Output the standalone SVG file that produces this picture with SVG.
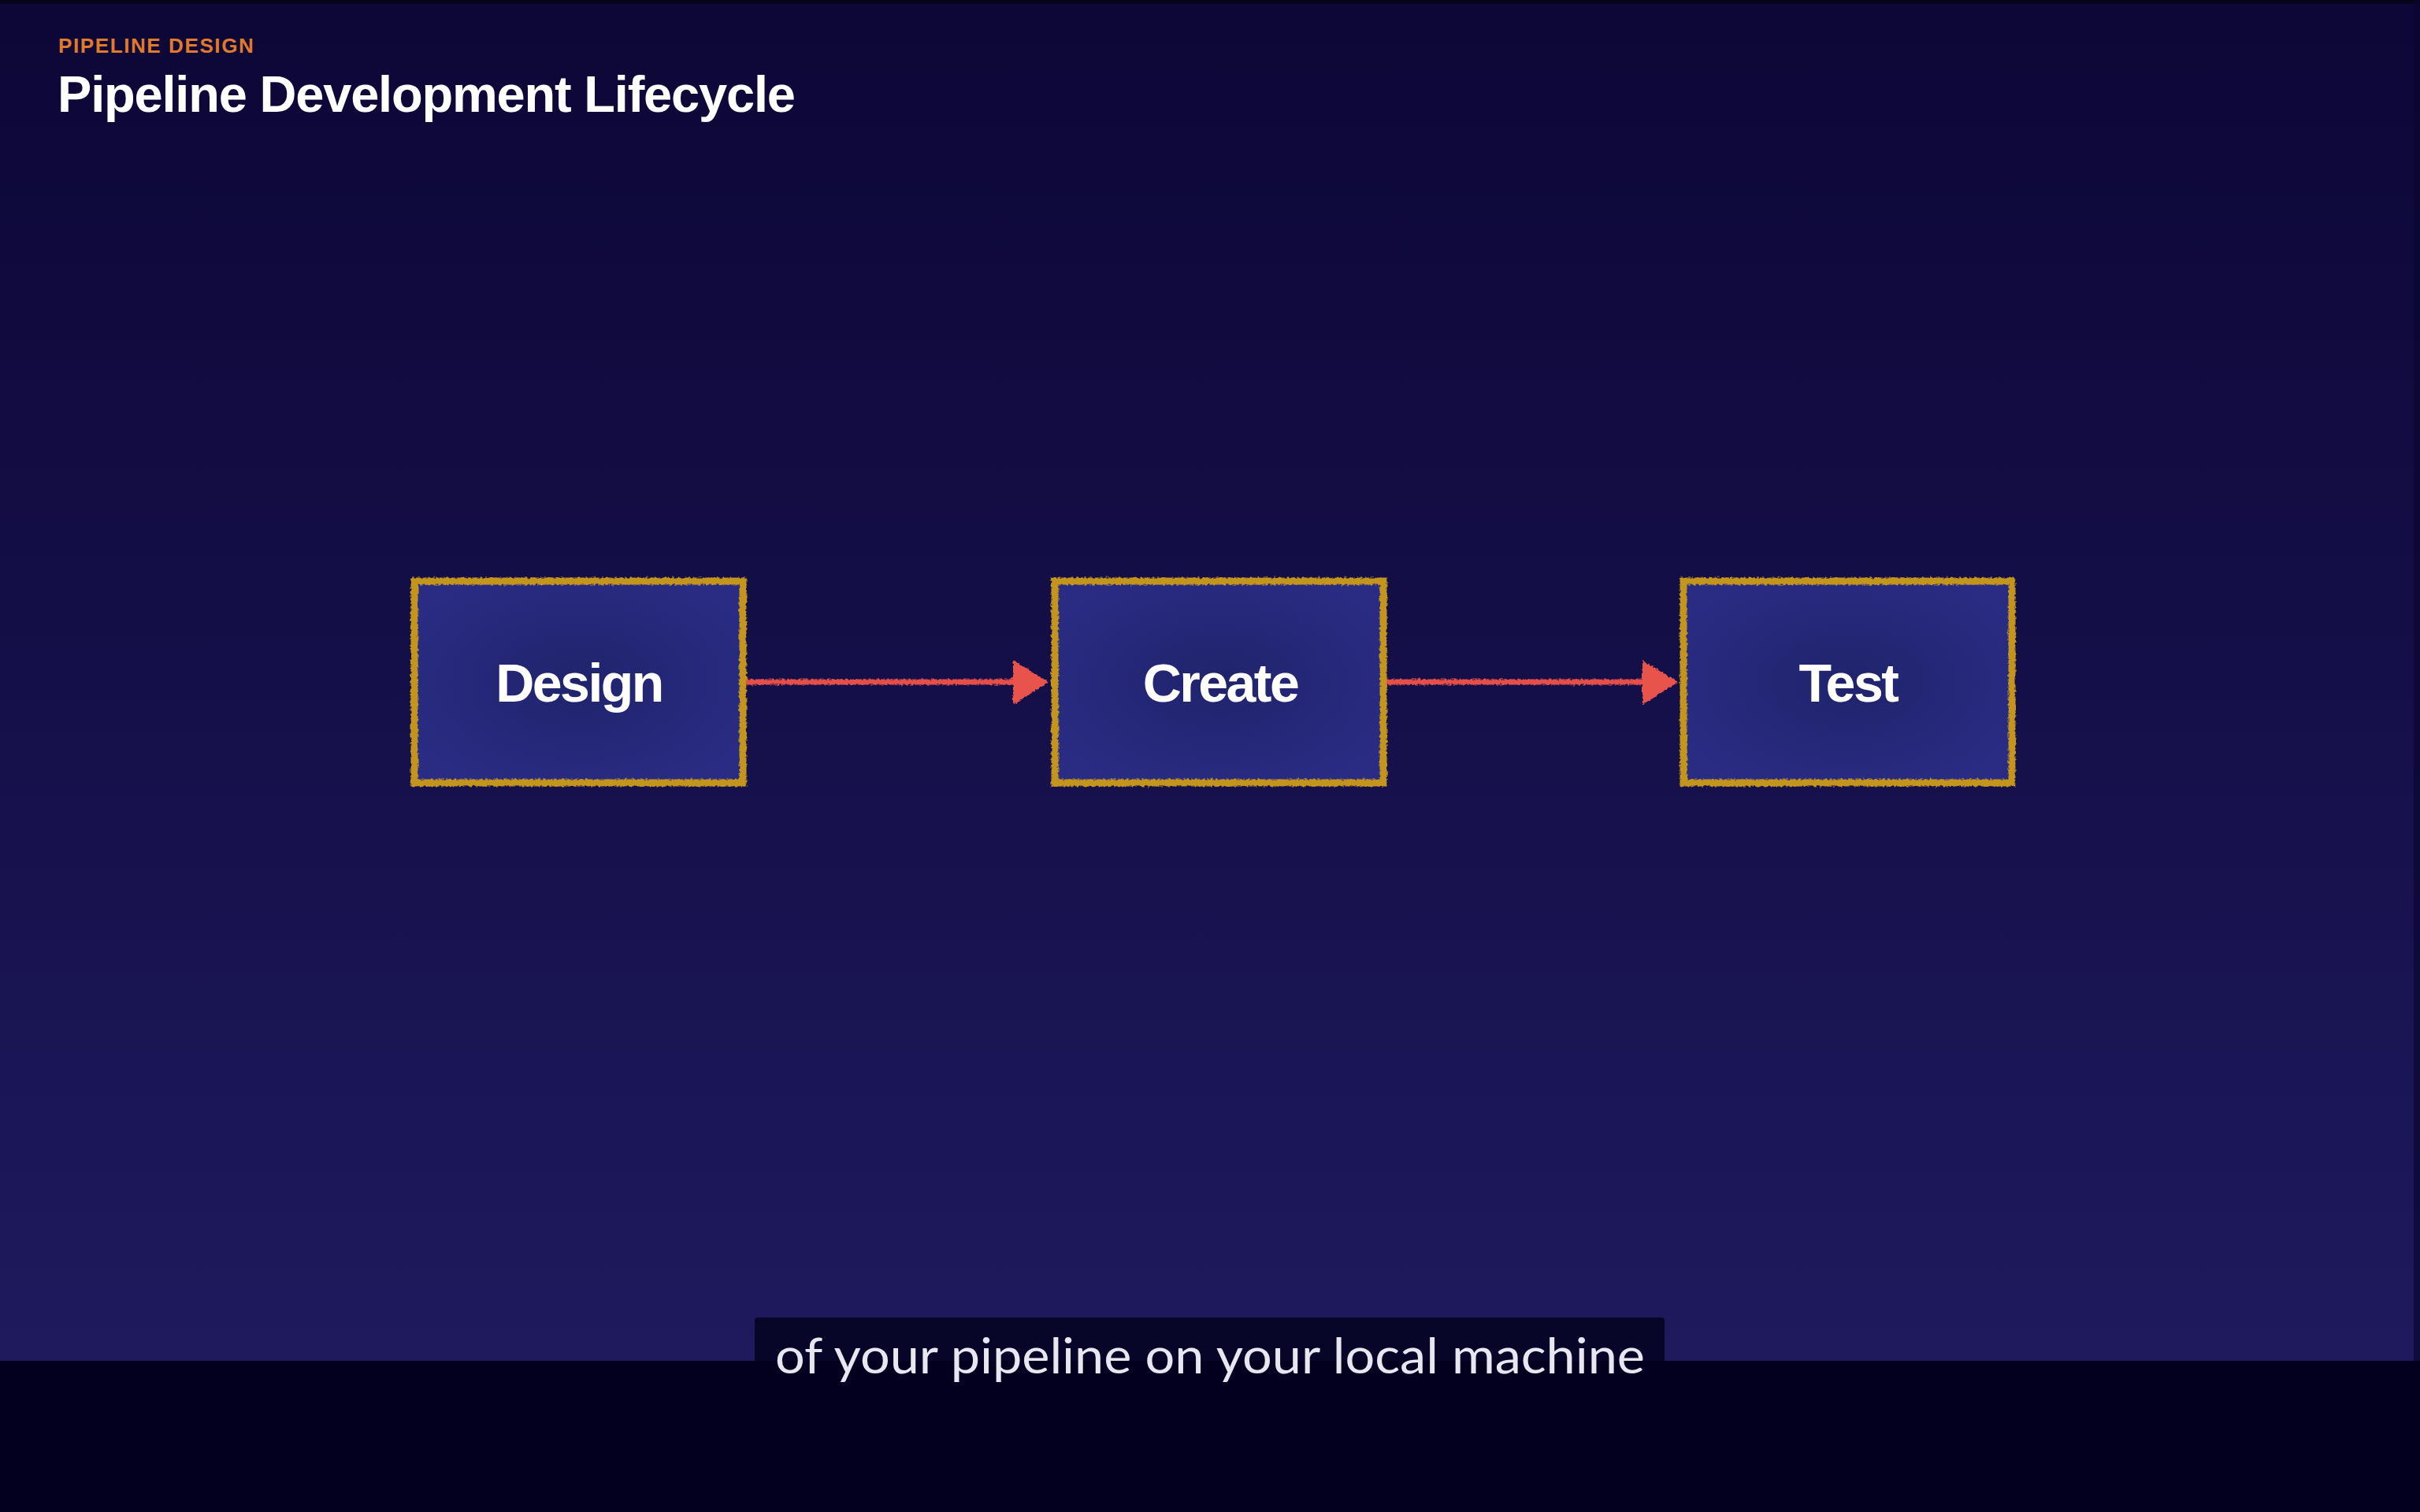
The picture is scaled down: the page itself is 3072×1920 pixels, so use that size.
<svg xmlns="http://www.w3.org/2000/svg" width="3072" height="1920" viewBox="0 0 3072 1920">
  <defs>
    <linearGradient id="bg" x1="0" y1="0" x2="0" y2="1728" gradientUnits="userSpaceOnUse">
      <stop offset="0" stop-color="#0c0736"/>
      <stop offset="0.5" stop-color="#150f49"/>
      <stop offset="1" stop-color="#1e1a5d"/>
    </linearGradient>
    <radialGradient id="boxfill" cx="0.5" cy="0.5" r="0.6">
      <stop offset="0" stop-color="#20236b"/>
      <stop offset="1" stop-color="#2a2c84"/>
    </radialGradient>
    <filter id="rough" filterUnits="userSpaceOnUse" x="0" y="0" width="3072" height="1920">
      <feTurbulence type="fractalNoise" baseFrequency="0.3" numOctaves="2" seed="4" result="n"/>
      <feDisplacementMap in="SourceGraphic" in2="n" scale="5" xChannelSelector="R" yChannelSelector="G"/>
    </filter>
    <style>
      .box { fill: url(#boxfill); }
      .border { fill: none; stroke: #c4951f; stroke-width: 9; filter: url(#rough); }
      .label { font-family: "Liberation Sans", Arial, sans-serif; font-weight: bold; font-size: 68px; fill: #ffffff; text-anchor: middle; letter-spacing: -2.5px; }
      .conn line { stroke: #e5504a; stroke-width: 7; filter: url(#rough); }
      .conn polygon { fill: #e8534c; filter: url(#rough); }
    </style>
  </defs>

  <rect x="0" y="0" width="3072" height="1920" fill="url(#bg)"/>
  <rect x="0" y="0" width="3072" height="5" fill="#06041a"/>
  <rect x="3064" y="0" width="8" height="1728" fill="#0a0630" opacity="0.7"/>

  <g id="header">
    <text x="74" y="67" font-family="Liberation Sans, Arial, sans-serif" font-weight="bold" font-size="26" fill="#e07a2c" letter-spacing="1.6">PIPELINE DESIGN</text>
    <text x="73" y="142" font-family="Liberation Sans, Arial, sans-serif" font-weight="bold" font-size="65" fill="#ffffff" letter-spacing="-1.2">Pipeline Development Lifecycle</text>
  </g>

  <g id="connectors" class="conn">
    <line x1="947" y1="866" x2="1292" y2="866"/>
    <polygon points="1286,838 1331,866 1286,895"/>
    <line x1="1760" y1="866" x2="2090" y2="866"/>
    <polygon points="2085,838 2130,866 2085,895"/>
  </g>

  <g id="node-design">
    <rect class="box" x="526" y="738" width="417" height="256"/>
    <rect class="border" x="526" y="738" width="417" height="256"/>
    <text class="label" x="735" y="891">Design</text>
  </g>

  <g id="node-create">
    <rect class="box" x="1339" y="738" width="417" height="256"/>
    <rect class="border" x="1339" y="738" width="417" height="256"/>
    <text class="label" x="1549" y="891">Create</text>
  </g>

  <g id="node-test">
    <rect class="box" x="2137" y="738" width="417" height="256"/>
    <rect class="border" x="2137" y="738" width="417" height="256"/>
    <text class="label" x="2346" y="891">Test</text>
  </g>

  <g id="caption">
    <rect x="958" y="1673" width="1155" height="100" rx="4" fill="#080628"/>
    <rect x="0" y="1728" width="3072" height="192" fill="#02001e"/>
    <text x="984" y="1744" font-family="Lato, 'Open Sans', sans-serif" font-size="62" fill="#e8e6f0" textLength="1104" lengthAdjust="spacingAndGlyphs">of your pipeline on your local machine</text>
  </g>
</svg>
